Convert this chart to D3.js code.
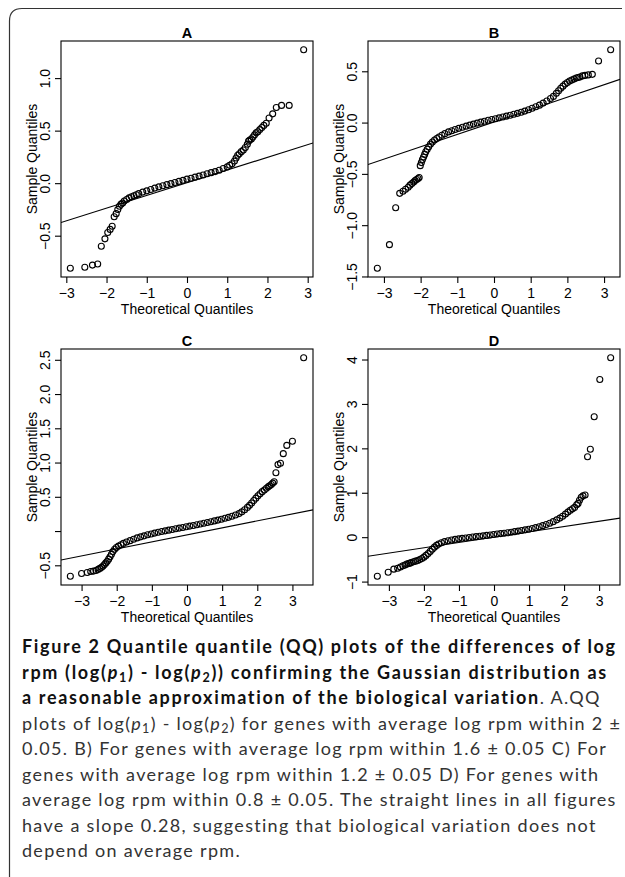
<!DOCTYPE html>
<html>
<head>
<meta charset="utf-8">
<script src="https://cdn.jsdelivr.net/npm/d3@7"></script>
<style>
  body { margin: 0; background: #fff; }
  svg { display: block; }
</style>
</head>
<body>
<div id="fig"></div>
<script>
// QQ plot values: theoretical quantile (x) and sample quantile (y)
const theoA = [-2.90,-2.54,-2.35,-2.22,-2.13,-2.04,-1.97,-1.91,-1.86,-1.81,-1.76,-1.72,-1.68,-1.64,-1.60,-1.56,-1.50,-1.44,-1.38,-1.32,-1.26,-1.20,-1.10,-1.00,-0.90,-0.80,-0.70,-0.60,-0.50,-0.40,-0.30,-0.20,-0.10,0.00,0.10,0.20,0.30,0.40,0.50,0.60,0.70,0.80,0.90,1.00,1.06,1.12,1.18,1.22,1.26,1.30,1.35,1.40,1.45,1.50,1.53,1.56,1.60,1.64,1.68,1.72,1.76,1.81,1.86,1.91,1.97,2.04,2.13,2.22,2.35,2.54,2.90];
const sampA = [-0.81,-0.80,-0.78,-0.77,-0.60,-0.53,-0.47,-0.44,-0.41,-0.32,-0.29,-0.25,-0.22,-0.20,-0.19,-0.17,-0.155,-0.14,-0.13,-0.12,-0.11,-0.10,-0.085,-0.073,-0.06,-0.047,-0.035,-0.024,-0.014,-0.004,0.006,0.017,0.027,0.038,0.047,0.057,0.067,0.078,0.089,0.10,0.11,0.123,0.14,0.155,0.17,0.185,0.21,0.24,0.265,0.28,0.30,0.315,0.34,0.37,0.40,0.41,0.42,0.44,0.46,0.48,0.49,0.51,0.53,0.55,0.57,0.62,0.66,0.72,0.74,0.74,1.27];

const theoB = [-3.18,-2.85,-2.68,-2.57,-2.48,-2.41,-2.34,-2.29,-2.24,-2.19,-2.15,-2.11,-2.07,-2.04,-2.01,-1.98,-1.95,-1.92,-1.89,-1.86,-1.82,-1.78,-1.73,-1.68,-1.62,-1.56,-1.50,-1.42,-1.34,-1.24,-1.15,-1.06,-0.96,-0.86,-0.76,-0.66,-0.56,-0.46,-0.36,-0.26,-0.16,-0.06,0.04,0.14,0.24,0.34,0.44,0.54,0.64,0.74,0.84,0.94,1.04,1.14,1.24,1.34,1.44,1.54,1.62,1.70,1.76,1.82,1.88,1.94,2.00,2.06,2.12,2.18,2.24,2.29,2.34,2.41,2.48,2.57,2.68,2.85,3.18];
const sampB = [-1.42,-1.19,-0.83,-0.69,-0.67,-0.65,-0.63,-0.61,-0.595,-0.58,-0.565,-0.555,-0.545,-0.535,-0.42,-0.39,-0.36,-0.335,-0.31,-0.285,-0.26,-0.235,-0.21,-0.19,-0.17,-0.155,-0.14,-0.123,-0.108,-0.091,-0.08,-0.068,-0.056,-0.045,-0.035,-0.025,-0.015,-0.005,0.004,0.013,0.022,0.03,0.038,0.046,0.055,0.063,0.072,0.081,0.09,0.10,0.112,0.125,0.14,0.155,0.17,0.19,0.21,0.235,0.255,0.285,0.31,0.335,0.355,0.375,0.39,0.405,0.415,0.425,0.435,0.44,0.445,0.455,0.46,0.465,0.47,0.60,0.71];

const theoC = [-3.32,-3.00,-2.84,-2.74,-2.66,-2.59,-2.53,-2.48,-2.43,-2.39,-2.35,-2.31,-2.27,-2.23,-2.19,-2.15,-2.11,-2.06,-2.01,-1.95,-1.88,-1.81,-1.72,-1.62,-1.52,-1.42,-1.32,-1.22,-1.12,-1.02,-0.92,-0.82,-0.72,-0.62,-0.52,-0.42,-0.32,-0.22,-0.12,-0.02,0.08,0.18,0.28,0.38,0.48,0.58,0.68,0.78,0.88,0.98,1.08,1.18,1.28,1.38,1.48,1.56,1.64,1.72,1.78,1.84,1.90,1.96,2.02,2.08,2.14,2.20,2.26,2.31,2.35,2.40,2.44,2.48,2.53,2.59,2.66,2.74,2.84,3.00,3.32];
const sampC = [-0.66,-0.62,-0.605,-0.59,-0.585,-0.575,-0.56,-0.545,-0.53,-0.51,-0.49,-0.465,-0.44,-0.41,-0.375,-0.34,-0.30,-0.265,-0.24,-0.22,-0.20,-0.18,-0.16,-0.14,-0.12,-0.10,-0.085,-0.07,-0.055,-0.042,-0.03,-0.018,-0.007,0.003,0.013,0.023,0.033,0.043,0.052,0.062,0.072,0.082,0.092,0.102,0.113,0.124,0.136,0.148,0.16,0.173,0.187,0.20,0.215,0.235,0.255,0.28,0.31,0.345,0.375,0.41,0.445,0.48,0.515,0.545,0.575,0.60,0.625,0.645,0.66,0.68,0.70,0.72,0.85,0.97,0.99,1.13,1.25,1.31,2.53];

const theoD = [-3.33,-3.02,-2.86,-2.75,-2.67,-2.60,-2.54,-2.49,-2.44,-2.40,-2.36,-2.30,-2.24,-2.18,-2.12,-2.06,-2.00,-1.94,-1.88,-1.82,-1.76,-1.70,-1.64,-1.58,-1.50,-1.41,-1.31,-1.21,-1.11,-1.01,-0.91,-0.81,-0.71,-0.61,-0.51,-0.41,-0.31,-0.21,-0.11,-0.01,0.09,0.19,0.29,0.39,0.49,0.59,0.69,0.79,0.89,0.99,1.09,1.19,1.29,1.39,1.49,1.59,1.69,1.79,1.88,1.96,2.04,2.11,2.18,2.24,2.30,2.36,2.40,2.44,2.49,2.54,2.60,2.67,2.75,2.86,3.02,3.33];
const sampD = [-0.88,-0.79,-0.72,-0.70,-0.67,-0.645,-0.625,-0.605,-0.595,-0.585,-0.57,-0.555,-0.54,-0.525,-0.505,-0.48,-0.45,-0.41,-0.37,-0.32,-0.27,-0.225,-0.185,-0.155,-0.125,-0.10,-0.08,-0.063,-0.05,-0.038,-0.027,-0.017,-0.007,0.003,0.012,0.021,0.03,0.04,0.05,0.06,0.07,0.08,0.09,0.10,0.112,0.124,0.137,0.15,0.165,0.18,0.197,0.215,0.235,0.26,0.285,0.315,0.35,0.39,0.43,0.47,0.52,0.565,0.605,0.64,0.67,0.73,0.76,0.83,0.90,0.93,0.95,1.81,1.98,2.71,3.55,4.04];

// reference lines: [intercept, slope]
const lineA = [0.004, 0.121];
const lineB = [0.006, 0.121];
const lineC = [-0.056, 0.102];
const lineD = [0.0, 0.119];

const panelNames = ["A", "B", "C", "D"];
const xTicks = [-3, -2, -1, 0, 1, 2, 3];
const yTicksA = [-0.5, 0, 0.5, 1];
const yTicksB = [-1.5, -1, -0.5, 0, 0.5];
const yTicksC = [-0.5, 0, 0.5, 1, 1.5, 2, 2.5];
const yTicksD = [-1, 0, 1, 2, 3, 4];
const yLabelsA = ["−0.5", "0.0", "0.5", "1.0"];
const yLabelsB = ["−1.5", "−1.0", "−0.5", "0.0", "0.5"];
const yLabelsC = ["−0.5", "", "0.5", "1.0", "1.5", "2.0", "2.5"];
const yLabelsD = ["−1", "0", "1", "2", "3", "4"];

const panels = [
  { name: panelNames[0], x: theoA, y: sampA, line: lineA, yTicks: yTicksA, yLabels: yLabelsA },
  { name: panelNames[1], x: theoB, y: sampB, line: lineB, yTicks: yTicksB, yLabels: yLabelsB },
  { name: panelNames[2], x: theoC, y: sampC, line: lineC, yTicks: yTicksC, yLabels: yLabelsC },
  { name: panelNames[3], x: theoD, y: sampD, line: lineD, yTicks: yTicksD, yLabels: yLabelsD }
];

const W = 625, H = 877;
const plotFont = "'Liberation Sans', Arial, sans-serif";
const boxW = 252, boxH = 236;
const boxLeft = [61, 368], boxTop = [41, 349];

const svg = d3.select("#fig").append("svg")
  .attr("width", W)
  .attr("height", H);

// page frame with rounded top-left corner
svg.append("path")
  .attr("d", "M9.5,877V21Q9.5,8.5,22,8.5H622")
  .attr("fill", "none")
  .attr("stroke", "#333")
  .attr("stroke-width", 1.2);

// R pads the data range by 4% on each side
function rRange(v) {
  const e = d3.extent(v), p = (e[1] - e[0]) * 0.04;
  return [e[0] - p, e[1] + p];
}

const fmtX = d => d < 0 ? "−" + Math.abs(d) : String(d);

panels.forEach((p, i) => {
  const left = boxLeft[i % 2], top = boxTop[Math.floor(i / 2)];
  const x = d3.scaleLinear().domain(rRange(p.x)).range([left, left + boxW]);
  const y = d3.scaleLinear().domain(rRange(p.y)).range([top + boxH, top]);
  const g = svg.append("g").attr("font-family", plotFont);

  g.append("clipPath").attr("id", "clip" + p.name)
    .append("rect")
    .attr("x", left).attr("y", top)
    .attr("width", boxW).attr("height", boxH);

  // reference line
  const [x0, x1] = x.domain();
  g.append("line")
    .attr("clip-path", "url(#clip" + p.name + ")")
    .attr("x1", x(x0)).attr("y1", y(p.line[0] + p.line[1] * x0))
    .attr("x2", x(x1)).attr("y2", y(p.line[0] + p.line[1] * x1))
    .attr("stroke", "#000")
    .attr("stroke-width", 1.1);

  // points
  g.append("g").selectAll("circle")
    .data(p.x.map((v, k) => [v, p.y[k]]))
    .enter()
    .append("circle")
    .attr("cx", d => x(d[0]))
    .attr("cy", d => y(d[1]))
    .attr("r", 3)
    .attr("fill", "none")
    .attr("stroke", "#000")
    .attr("stroke-width", 1.1);

  // box
  g.append("rect")
    .attr("x", left).attr("y", top)
    .attr("width", boxW).attr("height", boxH)
    .attr("fill", "none")
    .attr("stroke", "#000")
    .attr("stroke-width", 1.1);

  // x axis
  const gx = g.append("g")
    .attr("transform", `translate(0,${top + boxH})`)
    .call(d3.axisBottom(x).tickValues(xTicks).tickSize(6).tickPadding(5).tickFormat(fmtX));
  gx.select(".domain").remove();
  gx.selectAll("line").attr("stroke-width", 1.1);
  gx.selectAll("text").attr("font-size", 14).attr("font-family", plotFont).attr("fill", "#000");

  // y axis, labels parallel to the axis
  const gy = g.append("g")
    .attr("transform", `translate(${left},0)`)
    .call(d3.axisLeft(y).tickValues(p.yTicks).tickSize(6).tickFormat((d, k) => p.yLabels[k]));
  gy.select(".domain").remove();
  gy.selectAll("line").attr("stroke-width", 1.1);
  gy.selectAll("text")
    .attr("transform", "rotate(-90)")
    .attr("x", 0).attr("y", -11).attr("dy", null)
    .attr("text-anchor", "middle")
    .attr("font-size", 14).attr("font-family", plotFont).attr("fill", "#000");

  // titles
  g.append("text")
    .attr("x", left + boxW / 2).attr("y", top - 3)
    .attr("text-anchor", "middle")
    .attr("font-size", 14.5).attr("font-weight", "bold")
    .text(p.name);

  g.append("text")
    .attr("x", left + boxW / 2).attr("y", top + boxH + 37)
    .attr("text-anchor", "middle")
    .attr("font-size", 14)
    .text("Theoretical Quantiles");

  g.append("text")
    .attr("transform", `translate(${left - 24},${top + boxH / 2}) rotate(-90)`)
    .attr("text-anchor", "middle")
    .attr("font-size", 14)
    .text("Sample Quantiles");
});

// caption
const capLines = [
  [["Figure 2 Quantile quantile (QQ) plots of the differences of log", "b"]],
  [["rpm (log(", "b"], ["p", "bi"], ["1", "bsub"], [") - log(", "b"], ["p", "bi"], ["2", "bsub"], [")) confirming the Gaussian distribution as", "b"]],
  [["a reasonable approximation of the biological variation", "b"], [". A.QQ", "r"]],
  [["plots of log(", "r"], ["p", "i"], ["1", "sub"], [") - log(", "r"], ["p", "i"], ["2", "sub"], [") for genes with average log rpm within 2 ±", "r"]],
  [["0.05. B) For genes with average log rpm within 1.6 ± 0.05 C) For", "r"]],
  [["genes with average log rpm within 1.2 ± 0.05 D) For genes with", "r"]],
  [["average log rpm within 0.8 ± 0.05. The straight lines in all figures", "r"]],
  [["have a slope 0.28, suggesting that biological variation does not", "r"]],
  [["depend on average rpm.", "r"]]
];

const capFont = "Lato, 'Open Sans', sans-serif";
const capSize = 18;
const cap = svg.append("g").attr("font-family", capFont).attr("font-size", capSize);

// loosen the letter spacing so the long lines span the same width as in the figure
function spacingFor(str, weight) {
  const probe = cap.append("text").attr("font-weight", weight).text(str);
  const s = (593 - probe.node().getComputedTextLength()) / (str.length - 1);
  probe.remove();
  return s;
}
const regSpacing = spacingFor(capLines[6][0][0], "normal");
const boldSpacing = spacingFor(capLines[0][0][0], "bold");

const subSize = capSize * 0.7, subShift = capSize * 0.2;

capLines.forEach((segs, li) => {
  const t = cap.append("text").attr("x", 22).attr("y", 653 + li * 25.5);
  let shifted = false;
  segs.forEach(([s, st]) => {
    const ts = t.append("tspan").text(s);
    const bold = st[0] === "b";
    ts.attr("font-weight", bold ? "bold" : "normal")
      .attr("letter-spacing", bold ? boldSpacing : regSpacing)
      .attr("fill", bold ? "#111" : "#333");
    if (st.endsWith("i")) ts.attr("font-style", "italic");
    if (st.endsWith("sub")) {
      ts.attr("font-size", subSize).attr("dy", subShift);
      shifted = true;
    } else if (shifted) {
      ts.attr("dy", -subShift);
      shifted = false;
    }
  });
});
</script>
</body>
</html>
